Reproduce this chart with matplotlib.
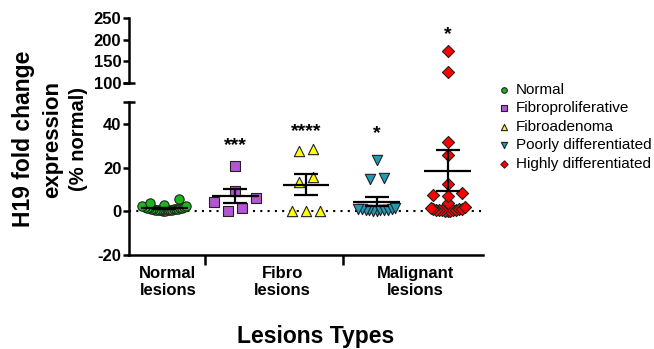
import numpy as np
import matplotlib
matplotlib.use('Agg')
import matplotlib.pyplot as plt
from matplotlib.transforms import blended_transform_factory

plt.rcParams['font.family'] = ['Liberation Sans', 'DejaVu Sans']

# 各组数据
groups = ['Normal', 'Fibroproliferative', 'Fibroadenoma',
          'Poorly differentiated', 'Highly differentiated']
normal = [0.2, 0.3, 0.4, 0.5, 0.5, 0.6, 0.7, 0.8, 0.8, 0.9, 1.0, 1.0, 1.1,
          1.2, 1.3, 1.4, 1.5, 1.6, 1.8, 2.0, 2.2, 2.5, 3.0, 4.0, 5.5]
fibroproliferative = [0.3, 1.5, 4.1, 5.9, 9.1, 20.9]
fibroadenoma = [0.0, 0.0, 0.0, 13.2, 15.5, 27.7, 28.6]
poorly = [0.2, 0.3, 0.4, 0.5, 0.6, 0.7, 0.8, 0.9, 1.0, 1.2, 1.5,
          15.0, 15.2, 23.6]
highly = [0.1, 0.2, 0.3, 0.4, 0.5, 0.6, 0.7, 0.8, 0.9, 1.0, 1.2, 1.5, 2.0,
          4.0, 6.8, 7.3, 8.5, 12.3, 25.9, 31.8, 126.0, 175.0]
series = [normal, fibroproliferative, fibroadenoma, poorly, highly]

stars = ['', '***', '****', '*', '*']
star_y = [None, 30, 36.5, 35.5, 212]

category_labels = ['Normal\nlesions', 'Fibro\nlesions', 'Malignant\nlesions']
category_x = [0.05, 1.67, 3.55]
category_ticks = [0.58, 2.52]

colors = ['#1DB41D', '#B455D2', '#FFFF00', '#1E9AB4', '#FF0000']
markers = ['o', 's', '^', 'v', 'D']
sizes = [45, 45, 55, 55, 38]
max_widths = [0.62, 0.6, 0.6, 0.52, 0.48]
bin_heights = [3.0, 6.0, 6.0, 6.0, 3.0]


def scatter_offsets(values, bin_h, spacing, max_width):
    # 类似GraphPad的散点布局: 按数值分行, 每行居中排开, 太多时压缩
    values = np.asarray(values, dtype=float)
    xs = np.zeros(len(values))
    bins = np.floor(values / bin_h).astype(int)
    for b in np.unique(bins):
        idx = np.where(bins == b)[0]
        idx = idx[np.argsort(values[idx])]
        n = len(idx)
        if n == 1:
            continue
        step = min(spacing, max_width / (n - 1))
        # 小值放中间, 大值往两边
        slots = np.arange(n) - (n - 1) / 2.0
        slot_order = np.argsort(np.abs(slots), kind='stable')
        for j, k in enumerate(idx):
            xs[k] = slots[slot_order[j]] * step
    return xs


fig = plt.figure(figsize=(6.54, 3.49), dpi=100)
ax = fig.add_axes([0.1972, 0.2693, 0.5413, 0.4384])
ax_top = fig.add_axes([0.1972, 0.7622, 0.5413, 0.1862])

for a in (ax, ax_top):
    a.set_xlim(-0.5, 4.5)
    for s in ['top', 'right']:
        a.spines[s].set_visible(False)
    a.spines['left'].set_linewidth(1.8)
    a.spines['bottom'].set_linewidth(1.8)
    a.tick_params(axis='y', length=4.5, width=1.8, labelsize=12, pad=1)

ax.set_ylim(-20, 50)
ax.set_yticks([-20, 0, 20, 40])
ax.set_yticklabels(['-20', '0', '20', '40'], fontweight='bold')
ax_top.set_ylim(100, 250)
ax_top.set_yticks([100, 150, 200, 250])
ax_top.set_yticklabels(['100', '150', '200', '250'], fontweight='bold')
ax_top.spines['bottom'].set_visible(False)
ax_top.set_xticks([])

ax.set_xticks(category_ticks)
ax.set_xticklabels([])
ax.tick_params(axis='x', length=7, width=1.8)

# 断轴端线
ax.plot([-0.017, 0.017], [1, 1], transform=ax.transAxes, color='black',
        lw=1.8, clip_on=False, solid_capstyle='butt')
ax_top.plot([-0.017, 0.017], [0, 0], transform=ax_top.transAxes,
            color='black', lw=1.8, clip_on=False, solid_capstyle='butt')

ax.axhline(0, color='black', lw=1.5, ls=(0, (1, 2.5)), zorder=1)

for i, vals in enumerate(series):
    xs = i + scatter_offsets(vals, bin_heights[i], 0.2, max_widths[i])
    for a in (ax, ax_top):
        a.scatter(xs, vals, s=sizes[i], marker=markers[i], c=colors[i],
                  edgecolors='#222222', linewidths=0.8, zorder=3,
                  label=groups[i] if a is ax else None)
    m = np.mean(vals)
    sem = np.std(vals, ddof=1) / np.sqrt(len(vals))
    ax.hlines(m, i - 0.33, i + 0.33, color='black', lw=1.6, zorder=4)
    ax.vlines(i, m - sem, m + sem, color='black', lw=1.6, zorder=4)
    ax.hlines([m - sem, m + sem], i - 0.17, i + 0.17, color='black', lw=1.6,
              zorder=4)
    if stars[i]:
        target = ax_top if star_y[i] > 50 else ax
        target.text(i, star_y[i], stars[i], ha='center', va='center',
                    fontsize=14, fontweight='bold')

trans = blended_transform_factory(ax.transData, ax.transAxes)
for x, lab in zip(category_x, category_labels):
    ax.text(x, -0.07, lab, transform=trans, ha='center', va='top',
            fontsize=12, fontweight='bold', linespacing=1.2)

fig.text(0.483, 0.035, 'Lesions Types', ha='center', va='center',
         fontsize=16.5, fontweight='bold')

fig.text(24 / 654, 0.6017, 'H19 fold change', rotation=90, ha='center',
         va='center', fontsize=16.5, fontweight='bold')
fig.text(53 / 654, 0.6017, 'expression', rotation=90, ha='center',
         va='center', fontsize=16, fontweight='bold')
fig.text(78 / 654, 0.6017, '(% normal)', rotation=90, ha='center',
         va='center', fontsize=14.5, fontweight='bold')

fig.legend(loc='upper left', bbox_to_anchor=(0.759, 0.763), frameon=False,
           fontsize=11, markerscale=0.6, handlelength=1.0, handletextpad=0.3,
           labelspacing=0.3, borderpad=0, borderaxespad=0)

fig.savefig('out.png', dpi=100)
